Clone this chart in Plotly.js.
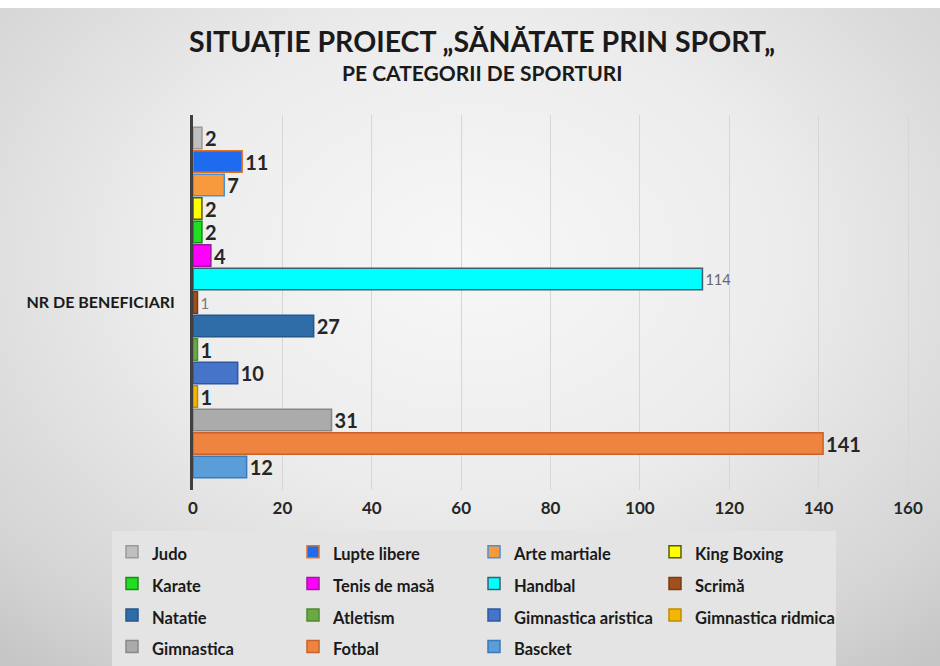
<!DOCTYPE html>
<html>
<head>
<meta charset="utf-8">
<script src="https://cdn.plot.ly/plotly-3.0.1.min.js"></script>
<style>
html,body{margin:0;padding:0;width:940px;height:666px;overflow:hidden;}
body{background:#ffffff;}
#wrap{position:absolute;left:0;top:8px;width:940px;height:658px;
background:radial-gradient(ellipse 75% 80% at 50% 38%, #f7f7f7 0%, #ececec 45%, #d4d4d4 85%, #c6c6c6 100%);}
#chart{position:absolute;left:0;top:0;width:940px;height:666px;}
</style>
</head>
<body>
<div id="wrap"></div>
<div id="chart"></div>
<script>
const category = ["NR DE BENEFICIARI"];
const sports = ["Judo","Lupte libere","Arte martiale","King Boxing","Karate","Tenis de masă","Handbal","Scrimă","Natatie","Atletism","Gimnastica aristica","Gimnastica ridmica","Gimnastica","Fotbal","Bascket"];
const beneficiari = [2,11,7,2,2,4,114,1,27,1,10,1,31,141,12];
const barColors = ["#BFBFBF","#1F6BF0","#F79A3E","#FFFF00","#22DD22","#FF00FF","#00FFFF","#A0501E","#2E6DA8","#6AAA45","#4674C8","#F2B705","#ABABAB","#EF8440","#5B9DD8"];
const lineColors = ["#9A9A9A","#E2701E","#4A90D9","#5A5A10","#1A8A1A","#9A1A9A","#3A5F70","#7A3A10","#24578A","#4E8A30","#2F58A0","#C08A00","#888888","#C8622A","#3A7AB8"];
const xTicks = [0,20,40,60,80,100,120,140,160];

const traces = sports.map((name,i)=>{
  const isHand = name === "Handbal";
  const isScr = name === "Scrimă";
  return {
    type:"bar", orientation:"h",
    name:"<span style='font-size:16.5px'>"+name+"</span>",
    y:category, x:[beneficiari[i]],
    marker:{color:barColors[i], line:{color:lineColors[i], width:1.5}},
    text:[String(beneficiari[i])], textposition:"outside", cliponaxis:false, constraintext:"none",
    textfont:{family:"Lato, sans-serif", size: isHand?14.5:(isScr?15:20), color: isHand?"#666":(isScr?"#777":"#262626"), weight: (isHand||isScr)?400:700},
    hoverinfo:"x"
  };
});

// plot width 735 px; 160 sits at 715 px from the left edge of the plot
const xMax = 160*735/715;

const layout = {
  width:940, height:666,
  paper_bgcolor:"rgba(0,0,0,0)", plot_bgcolor:"rgba(0,0,0,0)",
  margin:{l:193, r:12, t:115, b:176},
  barmode:"group", bargap:0.06, bargroupgap:0.08,
  showlegend:true,
  xaxis:{range:[0,xMax], tickvals:xTicks, showgrid:true, gridcolor:"#D6D6D6", gridwidth:1,
    zeroline:false, showline:false, ticks:"", ticklabelstandoff:6,
    tickfont:{family:"Lato, sans-serif", size:17, color:"#262626", weight:700}, fixedrange:true},
  yaxis:{type:"category", range:[0.5,-0.5], autorange:false, showline:true, linecolor:"#404040", linewidth:3,
    ticks:"", tickfont:{family:"Lato, sans-serif", size:16, color:"#1a1a1a", weight:700}, ticklabelstandoff:12},
  legend:{orientation:"h", xref:"container", yref:"container", x:112/940, y:1-531/666, xanchor:"left", yanchor:"top",
    bgcolor:"#E4E4E4", entrywidth:136, entrywidthmode:"pixels", traceorder:"normal",
    font:{family:"Lato, sans-serif", size:22, color:"#1a1a1a", weight:700}, tracegroupgap:0, itemwidth:30},
  annotations:[
    {text:"SITUAȚIE PROIECT „SĂNĂTATE PRIN SPORT„", xref:"paper", yref:"paper", x:(482-193)/735, y:(490-41)/375, xanchor:"center", yanchor:"middle",
      showarrow:false, font:{family:"Lato, sans-serif", size:28.5, color:"#1a1a1a", weight:700}},
    {text:"PE CATEGORII DE SPORTURI", xref:"paper", yref:"paper", x:(482-193)/735, y:(490-73)/375, xanchor:"center", yanchor:"middle",
      showarrow:false, font:{family:"Lato, sans-serif", size:21, color:"#1a1a1a", weight:700}}
  ]
};
Plotly.newPlot("chart", traces, layout, {displayModeBar:false, staticPlot:true});
</script>
</body>
</html>
